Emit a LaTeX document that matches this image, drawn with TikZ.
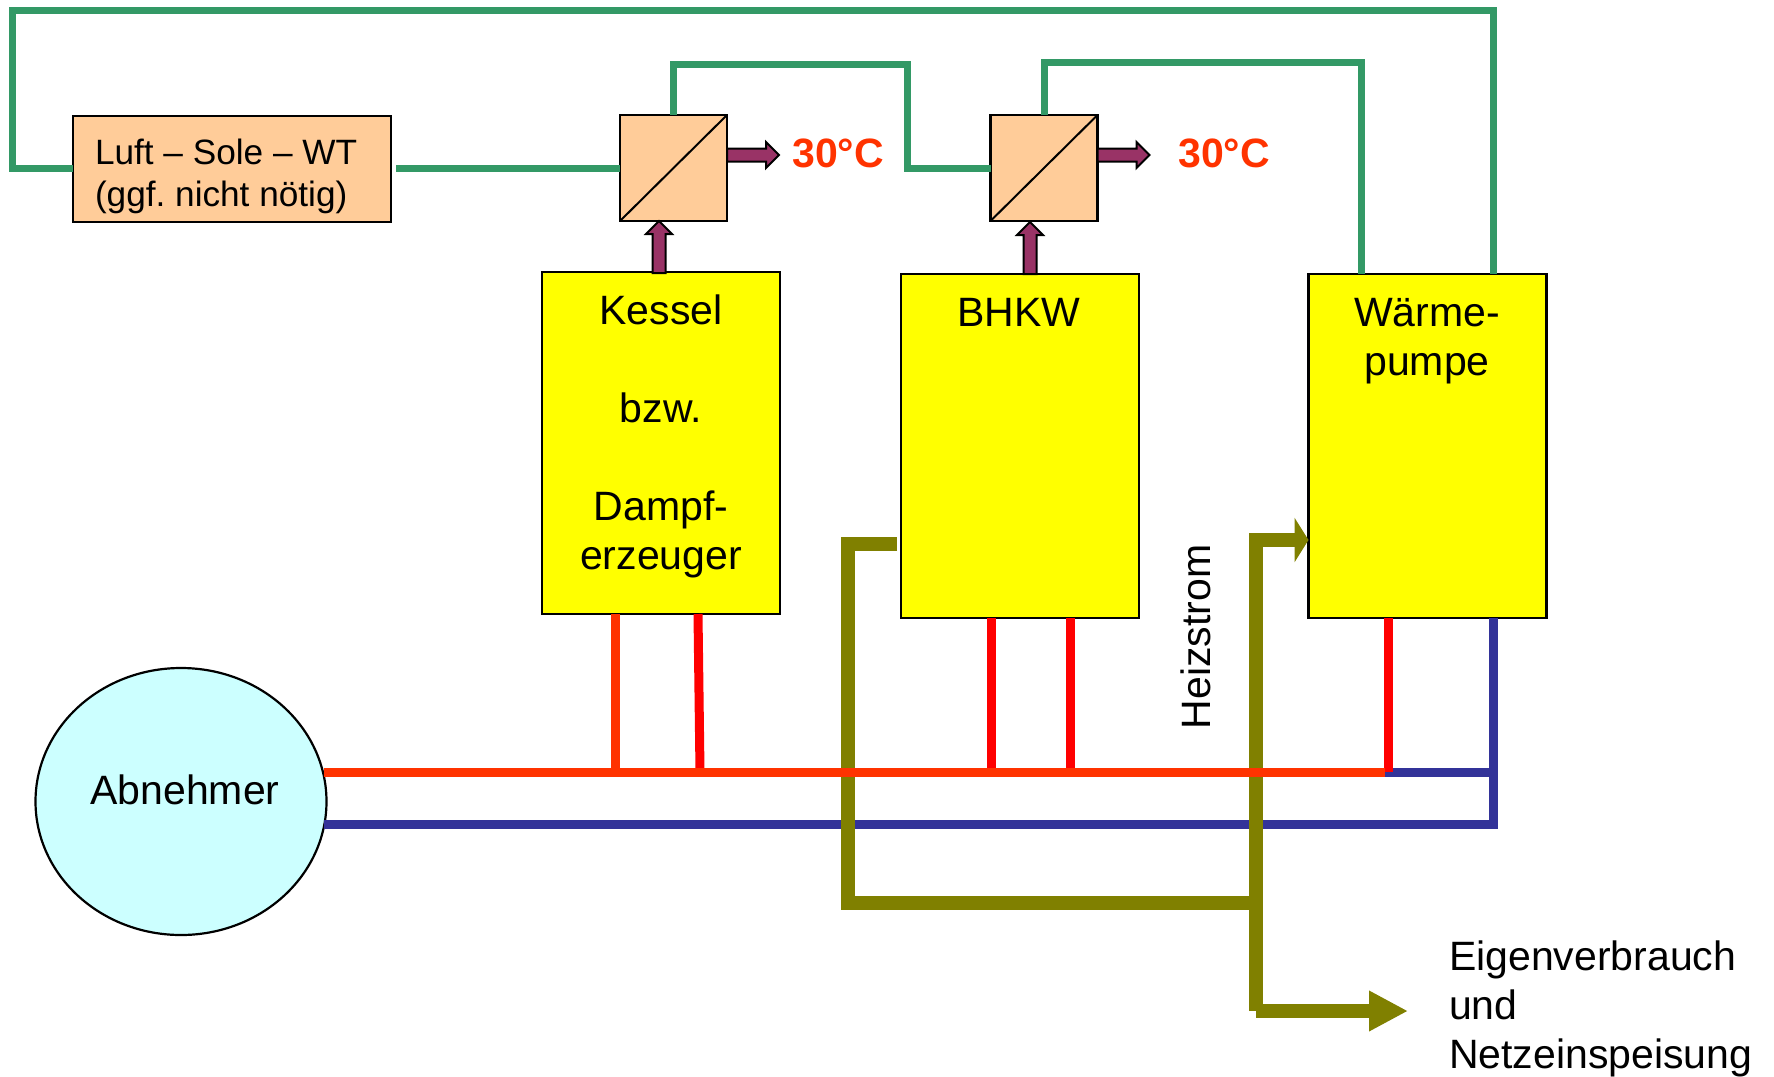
\documentclass[tikz,border=0pt]{standalone}
\usepackage{fontspec}
\setmainfont{Liberation Sans}
\usetikzlibrary{arrows.meta,shapes.arrows,shapes.geometric,calc}
\definecolor{pgreen}{HTML}{339966}
\definecolor{pred}{HTML}{FF3300}
\definecolor{pure}{HTML}{FF0000}
\definecolor{pblue}{HTML}{333399}
\definecolor{polive}{HTML}{808000}
\definecolor{ppeach}{HTML}{FFCC99}
\definecolor{ppurple}{HTML}{993366}
\definecolor{pcyan}{HTML}{CCFFFF}
\definecolor{pyellow}{RGB}{255,255,0}
\tikzset{
  x=1pt,y=-1pt,
  every node/.style={inner sep=0pt,outer sep=0pt},
  unitbox/.style={draw=black,fill=pyellow,line width=2.2pt,minimum width=238pt},
  wtbox/.style={draw=black,fill=ppeach,line width=2.2pt},
  big/.style={font=\fontsize{41}{49}\selectfont,align=center},
  mid/.style={font=\fontsize{35.2}{42}\selectfont\frenchspacing,align=left},
  temp/.style={font=\fontsize{41}{48}\selectfont\bfseries,text=pred},
  brine/.style={draw=pgreen,line width=7pt,miter limit=10},
  flow/.style={draw=pred,line width=9pt},
  feed/.style={draw=pure,line width=9pt},
  back/.style={draw=pblue,line width=9pt},
  power/.style={draw=polive,line width=13.5pt},
  heatarrow/.style={single arrow,draw=black,fill=ppurple,line width=2pt,minimum height=52pt,inner xsep=0pt,inner ysep=5.5pt,single arrow head extend=6.5pt,single arrow tip angle=90,anchor=tail},
}
\begin{document}
\begin{tikzpicture}
\useasboundingbox (0,0) rectangle (1774,1076);
% boxes
\node[wtbox,minimum width=318pt,minimum height=106pt] (luft) at (232,169) {};
\node[mid,anchor=west] (lufttxt) at (95,176) {Luft – Sole – WT\\(ggf. nicht nötig)};
\node[wtbox,minimum width=107pt,minimum height=106pt] (hxa) at (673.5,168) {};
\node[wtbox,minimum width=107pt,minimum height=106pt] (hxb) at (1044,168) {};
\node[unitbox,minimum height=342pt] (kessel) at (661,443) {};
\node[unitbox,minimum height=344pt] (bhkw) at (1020,446) {};
\node[unitbox,minimum height=344pt] (wp) at (1427.5,446) {};
\node[draw=black,fill=pcyan,line width=2.2pt,ellipse,minimum width=291pt,minimum height=267pt] (abn) at (181,801.5) {};
% texts
\node[big,anchor=north] (kesseltxt) at (661,295) {Kessel\\[49pt]bzw.\\[49pt]Dampf-\\erzeuger};
\node[big] (bhkwtxt) at (1019,312) {BHKW};
\node[big,anchor=north] (wptxt) at (1427,298) {Wärme-\\pumpe};
\node[big] (abntxt) at (185,790) {Abnehmer};
\node[big,rotate=90] (heiz) at (1196,637) {Heizstrom};
\node[big,align=left,anchor=north west] (eigen) at (1449,941) {Eigenverbrauch\\und\\Netzeinspeisung};
\node[temp] (ta) at (838,153) {30°C};
\node[temp] (tb) at (1224,153) {30°C};
% exchanger diagonals
\draw[line width=2pt] (hxa.south west) -- (hxa.north east);
\draw[line width=2pt] (hxb.south west) -- (hxb.north east);
% brine
\coordinate (lc) at (12,168); \coordinate (tl) at (12,10); \coordinate (tr) at (1493,10);
\draw[brine] (luft.west |- lc) -- (lc) -- (tl) -- (tr) -- (tr |- wp.north);
\coordinate (gapa) at (396,168);
\draw[brine] (gapa) -- (hxa.west |- gapa);
\coordinate (a1) at (907,64);
\coordinate (a2) at (907,168);
\draw[brine] (hxa.north) -- (hxa.north |- a1) -- (a1) -- (a2) -- (hxb.west |- a2);
\coordinate (b1) at (1361,62);
\draw[brine] (hxb.north) -- (hxb.north |- b1) -- (b1) -- (b1 |- wp.north);
% heat arrows
\coordinate (hy) at (0,155);
\node[heatarrow] (oa) at (hxa.east |- hy) {};
\node[heatarrow] (ob) at (hxb.east |- hy) {};
\node[heatarrow,rotate=90] (ua) at (659,273) {};
\node[heatarrow,rotate=90] (ub) at (1030,274) {};
% hydraulics
\coordinate (rr) at (1385,772);
\coordinate (br) at (1493,824);
\draw[back] (abn.east |- br) ++(-3,0) -- (br);
\draw[back] (wp.south -| br) -- ([yshift=-5pt]br);
\draw[back] (rr) -- (br |- rr);
% power
\coordinate (pa) at (897,544);
\coordinate (pa2) at (848,544);
\coordinate (pb) at (848,903);
\coordinate (pc) at (1256,903);
\coordinate (pd) at (1256,540);
\coordinate (pe) at (1256,1011);
\coordinate (pf) at (1408,1011);
\draw[power] (pa) -- (pa2) -- (pb) -- (pc);
\draw[power,-{Triangle[length=14pt,width=44pt]}] (pe) -- (pd) -- (wp.west |- pd);
\draw[power,-{Triangle[length=39pt,width=38pt]}] (pe) -- (pf);
% flow
\draw[flow] (615,614) -- (615,772);
\draw[feed] (698,614) -- (700,772);
\draw[feed] (991,618) -- (991,772);
\draw[feed] (1070,618) -- (1070,772);
\draw[feed] (1388,618) -- (1388,772);
\draw[flow] (abn.east |- rr) ++(-3,0) -- (rr);
\end{tikzpicture}
\end{document}
